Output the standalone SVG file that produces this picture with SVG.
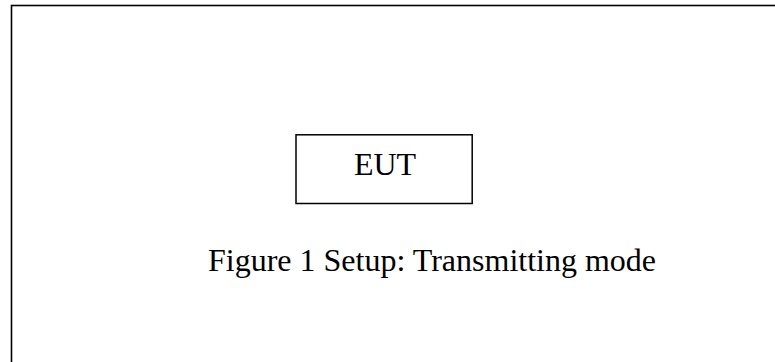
<svg xmlns="http://www.w3.org/2000/svg" width="775" height="362" viewBox="0 0 775 362">
<style>
.frame{fill:none;stroke:#000;stroke-width:1.6}
.box{fill:#fff;stroke:#000;stroke-width:1.5}
.t{font-family:"Liberation Serif","Times New Roman",serif;font-size:32px;fill:#000}
</style>
<rect width="775" height="362" fill="#fff"/>
<g id="frame"><rect class="frame" x="11.5" y="5.5" width="800" height="400"/></g>
<g id="eut">
<rect class="box" x="296" y="134.8" width="176.2" height="68.7"/>
<text class="t" x="385" y="174.5" text-anchor="middle">EUT</text>
</g>
<g id="caption">
<text class="t" x="208" y="270.8">Figure 1 Setup: Transmitting mode</text>
</g>
<g id="connectors"></g>
</svg>
